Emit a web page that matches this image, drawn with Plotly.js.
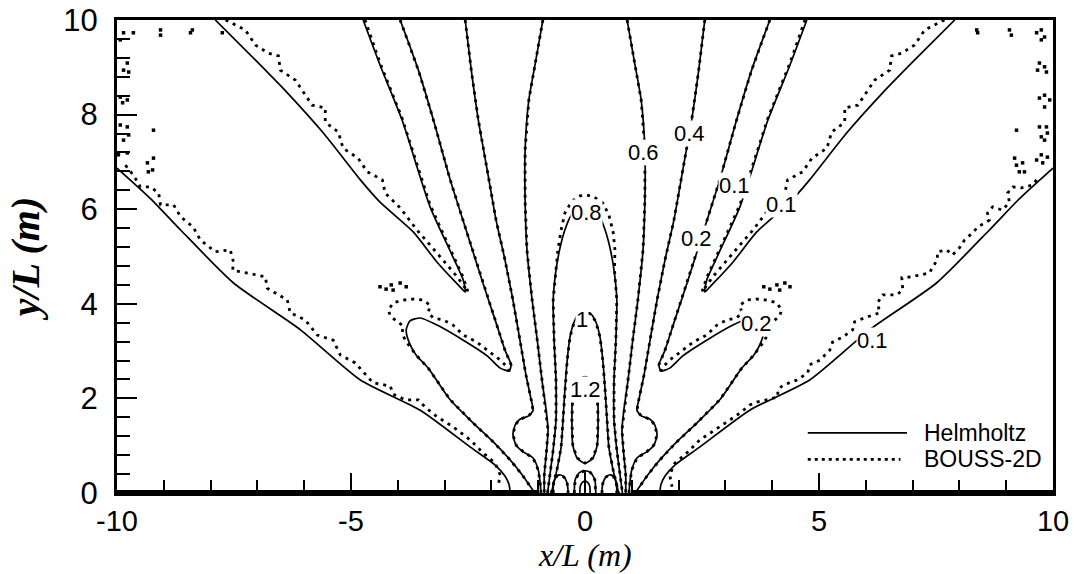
<!DOCTYPE html>
<html>
<head>
<meta charset="utf-8">
<script src="https://cdn.plot.ly/plotly-3.0.1.min.js"></script>
<style>html,body{margin:0;padding:0;background:#fff;}#chart{width:1081px;height:574px;}</style>
</head>
<body>
<div id="chart"></div>
<script>
// ---------- axis tick labels ----------
const xTickVals = [-10, -5, 0, 5, 10];
const xTickText = ['-10', '-5', '0', '5', '10'];
const yTickVals = [0, 2, 4, 6, 8, 10];
const yTickText = ['0', '2', '4', '6', '8', '10'];

// ---------- breakwater (thick wall on y = 0) ----------
const wallLx = [-10, -1], wallRx = [1, 10], wallY = [0, 0];

// ---------- Helmholtz contours (solid) ----------
const h01OuterLx = [-10.0,-9.28,-8.64,-7.51,-6.08,-4.80,-3.52,-2.45,-1.92,-1.71,-1.62,-1.60];
const h01OuterRx = [10.0,9.28,8.64,7.51,6.08,4.80,3.52,2.45,1.92,1.71,1.62,1.60];
const h01OuterY  = [6.87,6.22,5.56,4.44,3.45,2.39,1.75,0.97,0.59,0.36,0.17,0];

const h01FingerLx = [-7.90,-7.04,-6.36,-5.59,-4.80,-4.38,-3.67,-3.16,-2.71,-2.56,-2.60,-2.84,-3.31,-3.91,-4.38,-4.74];
const h01FingerRx = [7.90,7.04,6.36,5.59,4.80,4.38,3.67,3.16,2.71,2.56,2.60,2.84,3.31,3.91,4.38,4.74];
const h01FingerY  = [10.0,9.15,8.46,7.61,6.62,6.15,5.52,4.88,4.40,4.25,4.50,5.03,6.05,7.89,9.05,10.0];

const h02Lx = [-3.95,-3.56,-3.24,-2.88,-2.54,-2.20,-1.92,-1.71,-1.58,-1.62,-1.81,-2.09,-2.60,-3.16,-3.52,-3.74,-3.82,-3.76,-3.61,-3.35,-2.88,-2.41,-1.96,-1.60,-1.34,-1.15,-1.07];
const h02Rx = [3.95,3.56,3.24,2.88,2.54,2.20,1.92,1.71,1.58,1.62,1.81,2.09,2.60,3.16,3.52,3.74,3.82,3.76,3.61,3.35,2.88,2.41,1.96,1.60,1.34,1.15,1.07];
const h02Y  = [10.0,8.94,7.89,6.62,5.56,4.50,3.66,3.02,2.71,2.58,2.64,2.90,3.23,3.55,3.70,3.64,3.45,3.19,2.92,2.64,1.97,1.50,1.08,0.70,0.38,0.11,0];

const h04Lx = [-2.56,-2.43,-2.28,-2.09,-1.90,-1.71,-1.54,-1.39,-1.26,-1.15,-1.11,-1.20,-1.39,-1.49,-1.54,-1.47,-1.32,-1.11,-1.00,-0.96,-0.94];
const h04Rx = [2.56,2.43,2.28,2.09,1.90,1.71,1.54,1.39,1.26,1.15,1.11,1.20,1.39,1.49,1.54,1.47,1.32,1.11,1.00,0.96,0.94];
const h04Y  = [10.0,8.94,7.89,6.83,5.77,4.93,4.08,3.23,2.49,1.97,1.75,1.63,1.56,1.44,1.23,1.01,0.87,0.74,0.49,0.23,0];

const h06Lx = [-0.90,-1.05,-1.20,-1.28,-1.28,-1.24,-1.13,-1.02,-0.92,-0.83,-0.79,-0.83,-0.87,-0.87];
const h06Rx = [0.90,1.05,1.20,1.28,1.28,1.24,1.13,1.02,0.92,0.83,0.79,0.83,0.87,0.87];
const h06Y  = [10.0,9.15,8.31,7.25,6.19,5.14,4.08,3.23,2.39,1.75,1.33,0.80,0.38,0];

const h08x = [-0.80,-0.75,-0.68,-0.62,-0.62,-0.66,-0.68,-0.62,-0.53,-0.43,-0.30,-0.15,0,0.15,0.30,0.43,0.53,0.62,0.68,0.66,0.62,0.62,0.68,0.75,0.80];
const h08y = [0,0.38,0.91,1.54,2.39,3.23,4.08,4.71,5.20,5.56,5.86,6.00,6.05,6.00,5.86,5.56,5.20,4.71,4.08,3.23,2.39,1.54,0.91,0.38,0];

const h10x = [-0.72,-0.60,-0.51,-0.47,-0.43,-0.38,-0.32,-0.23,-0.13,0,0.13,0.23,0.32,0.38,0.43,0.47,0.51,0.60,0.72];
const h10y = [0,0.49,0.97,1.54,2.18,2.81,3.30,3.62,3.78,3.83,3.78,3.62,3.30,2.81,2.18,1.54,0.97,0.49,0];

const h12x = [0,-0.17,-0.26,-0.28,-0.26,-0.17,0,0.17,0.26,0.28,0.26,0.17,0];
const h12y = [2.45,2.39,2.14,1.54,1.01,0.74,0.63,0.74,1.01,1.54,2.14,2.39,2.45];

const archLx = [-0.68,-0.67,-0.60,-0.52,-0.45,-0.38,-0.36];
const archLy = [0,0.22,0.36,0.38,0.34,0.20,0];
const archRx = [0.36,0.38,0.45,0.52,0.60,0.67,0.68];
const archRy = [0,0.20,0.34,0.38,0.36,0.22,0];
const archCx = [-0.23,-0.21,-0.12,0,0.12,0.21,0.23];
const archCy = [0,0.28,0.43,0.47,0.43,0.28,0];
const archIx = [-0.11,-0.10,-0.05,0,0.05,0.10,0.11];
const archIy = [0,0.15,0.23,0.25,0.23,0.15,0];
const stemX = [0,0], stemY = [0,0.47];

// ---------- BOUSS-2D contours (dotted) ----------
const b01OuterLx = [-9.82,-9.65,-9.50,-9.28,-9.11,-9.07,-8.79,-8.64,-8.37,-8.22,-7.90,-7.58,-7.51,-7.53,-7.21,-6.83,-6.79,-6.57,-6.36,-6.30,-5.98,-5.72,-5.38,-5.23,-4.91,-4.53,-4.16,-4.10,-3.84,-3.56,-3.42,-3.16,-2.82,-2.45,-2.18,-1.92,-1.81,-1.86];
const b01OuterLy = [6.93,6.72,6.47,6.47,6.34,6.09,6.09,5.84,5.62,5.35,5.10,5.14,4.88,4.71,4.65,4.57,4.33,4.21,4.08,3.81,3.66,3.34,3.23,2.92,2.75,2.33,2.26,2.09,1.97,1.97,1.82,1.61,1.40,1.12,0.85,0.63,0.38,0.13];
const b01OuterRx = [9.65,9.56,9.33,9.14,9.03,9.07,8.92,8.71,8.60,8.64,8.39,8.28,8.11,8.00,7.85,7.73,7.53,7.53,7.43,7.36,7.15,6.98,6.77,6.79,6.66,6.36,6.25,6.30,6.02,5.76,5.72,5.51,5.29,5.23,5.02,4.80,4.76,4.53,4.23,4.12,4.12,3.88,3.67,3.52,3.31,3.09,2.88,2.45,2.18,1.92,1.81,1.86];
const b01OuterRy = [6.62,6.51,6.45,6.47,6.34,6.15,5.98,6.05,5.92,5.77,5.62,5.50,5.35,5.18,5.03,5.14,5.10,4.93,4.78,4.65,4.61,4.57,4.55,4.29,4.19,4.19,4.02,3.81,3.72,3.62,3.45,3.30,3.19,3.02,2.81,2.71,2.54,2.39,2.28,2.18,2.03,1.97,1.92,1.86,1.69,1.54,1.40,1.12,0.85,0.63,0.38,0.13];

const b01FingerLx = [-7.68,-7.26,-7.04,-6.77,-6.55,-6.51,-6.19,-6.02,-5.83,-5.55,-5.55,-5.27,-5.17,-4.85,-4.65,-4.33,-4.27,-3.95,-3.59,-3.16,-2.73,-2.50,-2.60,-2.84,-3.31,-3.91,-4.38,-4.70];
const b01FingerRx = [7.68,7.26,7.04,6.77,6.55,6.51,6.19,6.02,5.83,5.55,5.55,5.27,5.17,4.85,4.65,4.33,4.27,3.95,3.59,3.16,2.73,2.50,2.60,2.84,3.31,3.91,4.38,4.70];
const b01FingerY  = [10.0,9.79,9.47,9.30,9.24,8.94,8.73,8.48,8.20,8.14,7.84,7.63,7.29,7.08,6.79,6.62,6.34,6.03,5.56,5.07,4.57,4.25,4.55,5.07,6.09,7.93,9.09,10.0];

const b02Lx = [-3.95,-3.56,-3.24,-2.88,-2.54,-2.20,-1.92,-1.71,-1.58,-1.62,-1.66,-1.81,-2.09,-2.31,-2.60,-2.82,-3.03,-3.24,-3.35,-3.31,-3.46,-3.67,-3.88,-4.10,-4.20,-4.16,-4.01,-3.88,-3.91,-3.84,-3.74,-3.61,-3.35,-2.88,-2.41,-1.96,-1.60,-1.34,-1.15];
const b02Rx = [3.95,3.56,3.24,2.88,2.54,2.20,1.92,1.71,1.58,1.62,1.66,1.81,2.09,2.31,2.60,2.82,3.03,3.24,3.35,3.31,3.46,3.67,3.88,4.10,4.20,4.16,4.01,3.88,3.91,3.84,3.74,3.61,3.35,2.88,2.41,1.96,1.60,1.34,1.15];
const b02Y  = [10.0,8.94,7.89,6.62,5.56,4.50,3.66,3.02,2.71,2.58,2.66,2.81,3.02,3.19,3.34,3.55,3.66,3.70,3.81,3.97,4.08,4.10,4.08,4.02,3.87,3.74,3.62,3.53,3.38,3.23,3.09,2.92,2.64,1.97,1.50,1.08,0.70,0.38,0.11];

const b08x = [-0.80,-0.75,-0.68,-0.62,-0.62,-0.66,-0.68,-0.62,-0.58,-0.51,-0.43,-0.28,-0.11,0.04,0.19,0.38,0.51,0.60,0.64,0.63,0.68,0.66,0.62,0.62,0.68,0.75,0.80];
const b08y = [0,0.38,0.91,1.54,2.39,3.23,4.08,4.71,5.14,5.56,5.92,6.17,6.28,6.30,6.26,6.13,5.88,5.52,5.14,4.71,4.08,3.23,2.39,1.54,0.91,0.38,0];

// scattered BOUSS-2D dots near the side walls and above the lobes
const bEdgeLx = [-9.86,-9.65,-9.93,-9.78,-9.86,-9.75,-9.93,-9.78,-9.88,-9.93,-9.78,-9.86,-9.75,-9.97,-9.78,-9.22,-9.35,-9.22,-9.33,-9.24,-9.07,-9.07,-8.43,-8.39,-7.75];
const bEdgeLy = [9.73,9.73,9.58,9.09,8.94,8.90,8.37,8.31,8.25,7.78,7.74,7.46,7.57,7.15,7.19,7.67,6.98,7.08,6.79,6.83,9.79,9.68,9.73,9.79,9.73];
const bEdgeRx = [8.37,8.39,9.07,9.11,9.65,9.75,9.82,9.75,9.71,9.82,9.67,9.86,9.71,9.82,9.93,9.82,9.71,9.86,9.88,9.82,9.75,9.22,9.75,9.88,9.65,9.78,9.18,9.22,9.35,9.28,9.39];
const bEdgeRy = [9.79,9.73,9.79,9.68,9.73,9.79,9.64,9.58,9.09,9.01,8.94,8.90,8.35,8.41,8.31,8.16,7.74,7.74,7.61,7.46,7.53,7.67,7.15,7.10,7.04,6.98,7.08,6.93,6.98,6.79,6.79];
const bSquigLx = [-4.38,-4.25,-4.14,-4.10,-3.95,-3.82];
const bSquigRx = [3.82,3.95,4.10,4.16,4.27,4.38];
const bSquigY  = [4.36,4.31,4.40,4.29,4.44,4.36];

// ---------- contour labels ----------
const labelText = ['0.6','0.4','0.8','0.2','0.1','0.1','0.2','0.1','1','1.2'];
const labelX = [1.24, 2.24, 0.04, 2.39, 3.20, 4.20, 3.67, 6.15, -0.06, 0.0];
const labelY = [7.19, 7.61, 5.92, 5.39, 6.51, 6.09, 3.59, 3.23, 3.66, 2.18];

// ---------- helpers ----------
const SANS = 'Liberation Sans, Arial, Helvetica, sans-serif';
const SERIF = 'Liberation Serif, Times New Roman, serif';
function solid(x, y) {
  return {x: x, y: y, type: 'scatter', mode: 'lines', hoverinfo: 'skip',
    line: {color: 'black', width: 1.7, shape: 'spline', smoothing: 0.6}};
}
function dotted(x, y) {
  return {x: x, y: y, type: 'scatter', mode: 'lines', hoverinfo: 'skip',
    line: {color: 'black', width: 2.8, dash: '3px,5px'}};
}
function dots(x, y) {
  return {x: x, y: y, type: 'scatter', mode: 'markers', hoverinfo: 'skip',
    marker: {color: 'black', size: 3.5, symbol: 'square'}};
}

const traces = [
  solid(h01OuterLx, h01OuterY), solid(h01OuterRx, h01OuterY),
  solid(h01FingerLx, h01FingerY), solid(h01FingerRx, h01FingerY),
  solid(h02Lx, h02Y), solid(h02Rx, h02Y),
  solid(h04Lx, h04Y), solid(h04Rx, h04Y),
  solid(h06Lx, h06Y), solid(h06Rx, h06Y),
  solid(h08x, h08y), solid(h10x, h10y), solid(h12x, h12y),
  solid(archLx, archLy), solid(archRx, archRy), solid(archCx, archCy), solid(archIx, archIy),
  {x: stemX, y: stemY, type: 'scatter', mode: 'lines', hoverinfo: 'skip', line: {color: 'black', width: 1.7}},

  dotted(b01OuterLx, b01OuterLy), dotted(b01OuterRx, b01OuterRy),
  dotted(b01FingerLx, b01FingerY), dotted(b01FingerRx, b01FingerY),
  dotted(b02Lx, b02Y), dotted(b02Rx, b02Y),
  dotted(h04Lx, h04Y), dotted(h04Rx, h04Y),
  dotted(h06Lx, h06Y), dotted(h06Rx, h06Y),
  dotted(b08x, b08y), dotted(h10x, h10y), dotted(h12x, h12y),
  dotted(archLx, archLy), dotted(archRx, archRy), dotted(archCx, archCy),
  dots(bEdgeLx, bEdgeLy), dots(bEdgeRx, bEdgeRy),
  dots(bSquigLx, bSquigY), dots(bSquigRx, bSquigY),

  {x: wallLx, y: wallY, type: 'scatter', mode: 'lines', hoverinfo: 'skip', cliponaxis: false, line: {color: 'black', width: 6}},
  {x: wallRx, y: wallY, type: 'scatter', mode: 'lines', hoverinfo: 'skip', cliponaxis: false, line: {color: 'black', width: 6}}
];

const annotations = labelText.map(function (t, i) {
  return {x: labelX[i], y: labelY[i], xref: 'x', yref: 'y', text: t, showarrow: false,
    font: {family: SANS, size: 22, color: 'black'}, bgcolor: 'white', borderpad: 0};
});
annotations.push(
  {x: 0.860, y: 0.127, xref: 'paper', yref: 'paper', text: 'Helmholtz', showarrow: false,
   xanchor: 'left', yanchor: 'middle', font: {family: SANS, size: 23, color: 'black'}},
  {x: 0.860, y: 0.071, xref: 'paper', yref: 'paper', text: 'BOUSS-2D', showarrow: false,
   xanchor: 'left', yanchor: 'middle', font: {family: SANS, size: 23, color: 'black'}},
  // x-axis title, placed as an annotation so it sits clear of the tick labels
  {x: 0.5, y: -0.1311, xref: 'paper', yref: 'paper', text: 'x/L (m)', showarrow: false,
   xanchor: 'center', yanchor: 'middle', borderpad: 0,
   font: {family: SERIF, size: 32, color: 'black', style: 'italic'}}
);

const layout = {
  width: 1081, height: 574,
  margin: {l: 117, r: 28, t: 20, b: 81, pad: 0},
  paper_bgcolor: 'white', plot_bgcolor: 'white',
  showlegend: false,
  xaxis: {
    range: [-10, 10], tickmode: 'array', tickvals: xTickVals, ticktext: xTickText,
    ticks: 'inside', ticklen: 20, tickwidth: 2, tickcolor: 'black',
    minor: {dtick: 1, tick0: 0, ticks: 'inside', ticklen: 13, tickwidth: 2, tickcolor: 'black', showgrid: false},
    showline: true, linewidth: 3, linecolor: 'black', mirror: true,
    showgrid: false, zeroline: false, ticklabelstandoff: 0,
    tickfont: {family: SANS, size: 29, color: 'black'}
  },
  yaxis: {
    range: [0, 10], tickmode: 'array', tickvals: yTickVals, ticktext: yTickText,
    ticks: 'inside', ticklen: 20, tickwidth: 2, tickcolor: 'black',
    minor: {dtick: 0.4, tick0: 0, ticks: 'inside', ticklen: 13, tickwidth: 2, tickcolor: 'black', showgrid: false},
    showline: true, linewidth: 3, linecolor: 'black', mirror: true,
    showgrid: false, zeroline: false, ticklabelstandoff: 10,
    tickfont: {family: SANS, size: 31, color: 'black'},
    title: {text: 'y/L (m)', standoff: 12, font: {family: SERIF, size: 40, color: 'black', style: 'italic', weight: 'bold'}}
  },
  shapes: [
    {type: 'line', xref: 'paper', yref: 'paper', x0: 0.738, x1: 0.844, y0: 0.127, y1: 0.127, line: {color: 'black', width: 1.7}},
    {type: 'line', xref: 'paper', yref: 'paper', x0: 0.738, x1: 0.837, y0: 0.071, y1: 0.071, line: {color: 'black', width: 2.6, dash: '3px,4px'}}
  ],
  annotations: annotations
};

Plotly.newPlot('chart', traces, layout, {staticPlot: true, displayModeBar: false});
</script>
</body>
</html>
